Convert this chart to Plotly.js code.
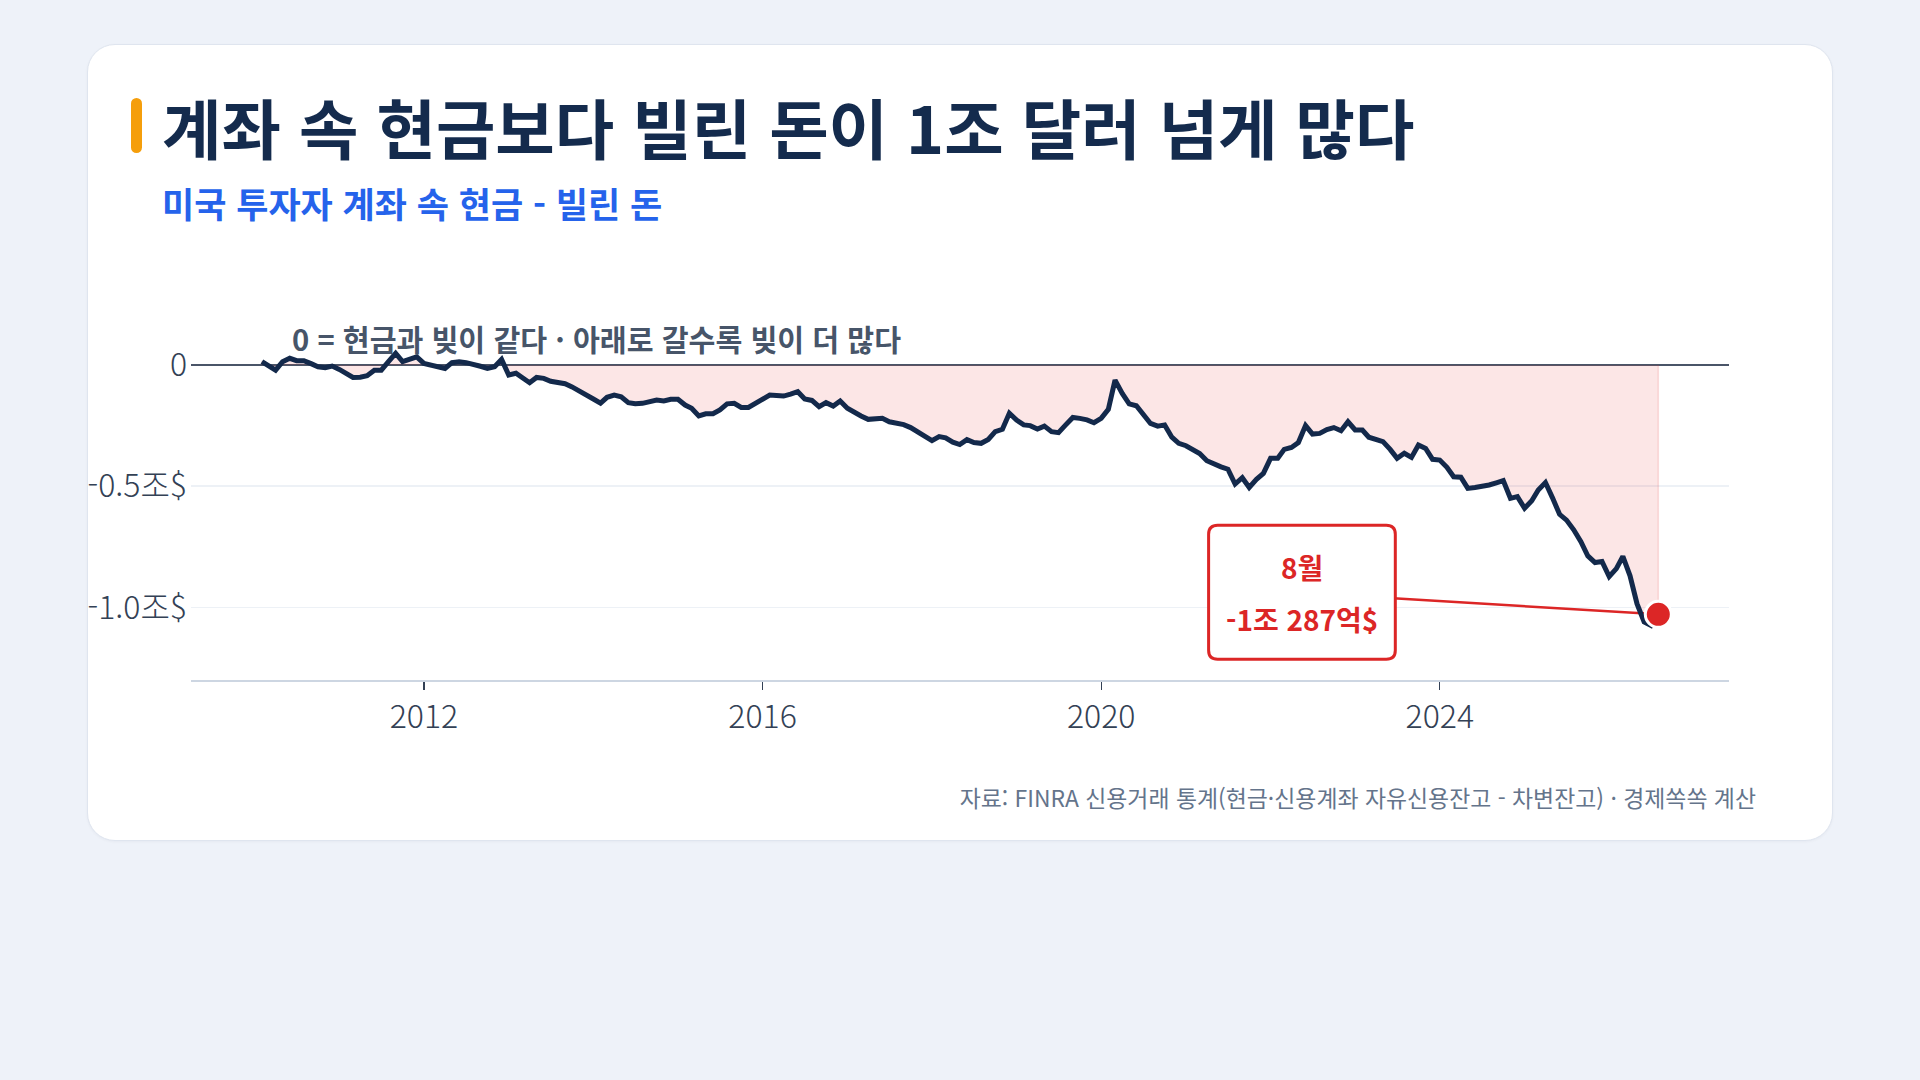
<!DOCTYPE html>
<html lang="ko">
<head>
<meta charset="utf-8">
<script src="https://cdn.plot.ly/plotly-3.0.1.min.js"></script>
<style>
  html, body { margin: 0; padding: 0; }
  body { width: 1920px; height: 1080px; background: #eef2f9; position: relative; overflow: hidden;
         font-family: 'Noto Sans CJK KR', 'Noto Sans', sans-serif; }
  #card { position: absolute; left: 87px; top: 44px; width: 1746px; height: 797px; background: #fff;
          border: 1.5px solid #dfe5ef; border-radius: 28px; box-sizing: border-box;
          box-shadow: 0 1px 3px rgba(15, 23, 42, 0.04); }
  #bar { position: absolute; left: 131px; top: 98px; width: 11px; height: 55px; background: #f59e0b; border-radius: 6px; }
  #title { position: absolute; left: 162px; top: 94px; font-size: 64.6px; line-height: 64.6px; font-weight: 700;
           color: #142b4d; white-space: nowrap; }
  #sub { position: absolute; left: 162px; top: 185px; font-size: 35px; line-height: 35px; font-weight: 700;
         color: #2563eb; white-space: nowrap; }
  #src { position: absolute; right: 164px; top: 786px; font-size: 22.9px; line-height: 23px; color: #64748b; white-space: nowrap; }
  #chart { position: absolute; left: 0; top: 0; width: 1920px; height: 1080px; }
</style>
</head>
<body>
<div id="card"></div>
<div id="bar"></div>
<div id="title">계좌 속 현금보다 빌린 돈이 1조 달러 넘게 많다</div>
<div id="sub">미국 투자자 계좌 속 현금 - 빌린 돈</div>
<div id="src">자료: FINRA 신용거래 통계(현금·신용계좌 자유신용잔고 - 차변잔고) · 경제쏙쏙 계산</div>
<div id="chart"></div>
<script>
// 월별 (현금 - 빌린 돈), 단위: 조 달러. 2010년 2월부터 2026년 8월까지
var startYear = 2010;
var startMonth = 2;
var gapTrillion = [
  0.014, 0.000, -0.021, 0.014, 0.028, 0.018, 0.018, 0.006, -0.007, -0.011, -0.004, -0.018,
  -0.034, -0.051, -0.050, -0.044, -0.021, -0.021, 0.014, 0.048, 0.014, 0.025, 0.034, 0.007,
  0.000, -0.004, -0.014, 0.010, 0.014, 0.010, 0.005, -0.005, -0.014, -0.007, 0.023, -0.041,
  -0.034, -0.055, -0.073, -0.051, -0.055, -0.067, -0.072, -0.077, -0.090, -0.105, -0.120, -0.140,
  -0.157, -0.133, -0.124, -0.131, -0.155, -0.160, -0.158, -0.150, -0.144, -0.148, -0.141, -0.141,
  -0.165, -0.178, -0.210, -0.201, -0.201, -0.185, -0.160, -0.158, -0.175, -0.175, -0.158, -0.138,
  -0.124, -0.126, -0.128, -0.120, -0.110, -0.140, -0.146, -0.172, -0.155, -0.169, -0.148, -0.178,
  -0.196, -0.210, -0.224, -0.221, -0.220, -0.234, -0.240, -0.246, -0.258, -0.276, -0.296, -0.312,
  -0.295, -0.300, -0.318, -0.328, -0.308, -0.320, -0.323, -0.307, -0.275, -0.265, -0.199, -0.227,
  -0.247, -0.250, -0.264, -0.252, -0.275, -0.279, -0.247, -0.216, -0.220, -0.226, -0.238, -0.220,
  -0.183, -0.062, -0.117, -0.160, -0.168, -0.205, -0.241, -0.252, -0.247, -0.298, -0.323, -0.333,
  -0.348, -0.365, -0.395, -0.410, -0.420, -0.430, -0.491, -0.465, -0.505, -0.472, -0.447, -0.385,
  -0.385, -0.348, -0.340, -0.320, -0.250, -0.285, -0.282, -0.266, -0.258, -0.271, -0.234, -0.268,
  -0.268, -0.298, -0.307, -0.316, -0.348, -0.385, -0.364, -0.381, -0.330, -0.344, -0.389, -0.392,
  -0.422, -0.461, -0.463, -0.509, -0.505, -0.502, -0.495, -0.486, -0.477, -0.550, -0.543, -0.591,
  -0.560, -0.516, -0.485, -0.547, -0.616, -0.640, -0.680, -0.729, -0.788, -0.815, -0.811, -0.873,
  -0.840, -0.790, -0.870, -0.985, -1.060, -1.075, -1.0287
];

var yearTicks = ['2012-01-01', '2016-01-01', '2020-01-01', '2024-01-01'];
var yearLabels = ['2012', '2016', '2020', '2024'];
var yTickVals = [0, -0.5, -1.0];
var yTickText = ['0', '-0.5조$', '-1.0조$'];
var lastLabel = ['8월', '-1조 287억$'];

// 월 날짜 만들기
var dates = gapTrillion.map(function (v, i) {
  var m = startMonth - 1 + i;
  var y = startYear + Math.floor(m / 12);
  var mm = (m % 12) + 1;
  return y + '-' + (mm < 10 ? '0' + mm : mm) + '-01';
});

var n = gapTrillion.length;
var lastDate = dates[n - 1];
var lastVal = gapTrillion[n - 1];

var FONT = "'Noto Sans CJK KR', 'Noto Sans', sans-serif";
var TICKFONT = "'Noto Sans CJK KR Light', 'Noto Sans CJK KR DemiLight', 'Noto Sans CJK KR', sans-serif";
var RED = '#dc2626';

// 0 아래 음영 (닫힌 다각형)
var fillTrace = {
  x: [dates[0]].concat(dates, [lastDate]),
  y: [0].concat(gapTrillion, [0]),
  type: 'scatter',
  mode: 'lines',
  fill: 'toself',
  fillcolor: 'rgba(230, 60, 60, 0.13)',
  line: { color: 'rgba(230, 60, 60, 0.16)', width: 1.5 },
  hoverinfo: 'skip',
  showlegend: false
};

var lineTrace = {
  x: dates,
  y: gapTrillion,
  type: 'scatter',
  mode: 'lines',
  line: { color: '#13294b', width: 5 },
  showlegend: false
};

var lastPoint = {
  x: [lastDate],
  y: [lastVal],
  type: 'scatter',
  mode: 'markers',
  marker: { color: RED, size: 26, line: { color: '#ffffff', width: 3 } },
  showlegend: false
};

// 말풍선 상자 (마지막 점 기준 픽셀)
var bx0 = -449.7, bx1 = -263, by0 = -45, by1 = 89, r = 9;
var boxPath = 'M ' + (bx0 + r) + ',' + by1 + ' L ' + (bx1 - r) + ',' + by1 +
  ' Q ' + bx1 + ',' + by1 + ' ' + bx1 + ',' + (by1 - r) +
  ' L ' + bx1 + ',' + (by0 + r) + ' Q ' + bx1 + ',' + by0 + ' ' + (bx1 - r) + ',' + by0 +
  ' L ' + (bx0 + r) + ',' + by0 + ' Q ' + bx0 + ',' + by0 + ' ' + bx0 + ',' + (by0 + r) +
  ' L ' + bx0 + ',' + (by1 - r) + ' Q ' + bx0 + ',' + by1 + ' ' + (bx0 + r) + ',' + by1 + ' Z';

var layout = {
  width: 1920,
  height: 1080,
  margin: { l: 191, r: 191, t: 336, b: 400 },
  paper_bgcolor: 'rgba(0,0,0,0)',
  plot_bgcolor: 'rgba(0,0,0,0)',
  font: { family: FONT, color: '#334155' },
  xaxis: {
    type: 'date',
    range: ['2009-04-01', '2027-06-02'],
    tickvals: yearTicks,
    ticktext: yearLabels,
    showgrid: false,
    zeroline: false,
    showline: true,
    linecolor: '#cdd6e2',
    linewidth: 2,
    ticks: 'outside',
    ticklen: 8,
    tickwidth: 1.2,
    tickcolor: '#334155',
    tickfont: { family: TICKFONT, size: 32, color: '#334155', weight: 300 },
    fixedrange: true
  },
  yaxis: {
    range: [-1.3, 0.12],
    tickvals: yTickVals,
    ticktext: yTickText,
    showgrid: true,
    gridcolor: '#edf1f6',
    gridwidth: 1.5,
    zeroline: true,
    zerolinecolor: '#4a5568',
    zerolinewidth: 2.5,
    showline: false,
    ticks: '',
    ticklabelstandoff: 3,
    tickfont: { family: TICKFONT, size: 32, color: '#334155', weight: 300 },
    fixedrange: true
  },
  shapes: [
    {
      type: 'line', layer: 'between',
      xref: 'x', yref: 'y', xsizemode: 'pixel', ysizemode: 'pixel',
      xanchor: lastDate, yanchor: lastVal,
      x0: bx1 - 2, y0: 16, x1: 0, y1: 0,
      line: { color: RED, width: 2.5 }
    },
    {
      type: 'path', layer: 'above',
      xref: 'x', yref: 'y', xsizemode: 'pixel', ysizemode: 'pixel',
      xanchor: lastDate, yanchor: lastVal,
      path: boxPath,
      fillcolor: '#ffffff',
      line: { color: RED, width: 3 }
    }
  ],
  annotations: [
    {
      xref: 'paper', yref: 'y', x: 0.0642, y: 0, xanchor: 'left', yanchor: 'middle', yshift: 27,
      text: '0 = 현금과 빚이 같다 · 아래로 갈수록 빚이 더 많다',
      showarrow: false,
      font: { family: FONT, size: 29.2, color: '#475569', weight: 700 }
    },
    {
      xref: 'x', yref: 'y', x: lastDate, y: lastVal, xshift: -356.3, yshift: 47.3,
      text: lastLabel[0], showarrow: false,
      font: { family: FONT, size: 28, color: RED, weight: 700 }
    },
    {
      xref: 'x', yref: 'y', x: lastDate, y: lastVal, xshift: -356.3, yshift: -4.3,
      text: lastLabel[1], showarrow: false,
      font: { family: FONT, size: 28, color: RED, weight: 700 }
    }
  ]
};

Plotly.newPlot('chart', [fillTrace, lineTrace, lastPoint], layout, { displayModeBar: false, staticPlot: true });
</script>
</body>
</html>
